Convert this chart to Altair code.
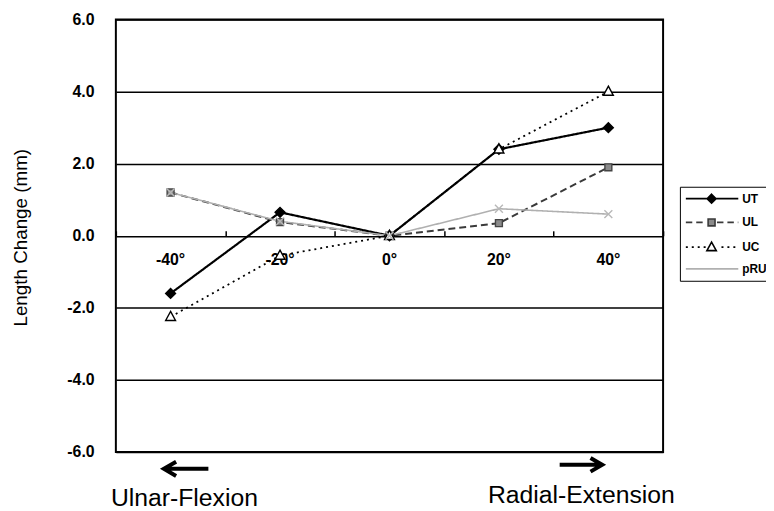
import altair as alt
import pandas as pd

# ---------------- data ----------------
angles = ["-40°", "-20°", "0°", "20°", "40°"]
series_names = ["UT", "UL", "UC", "pRU"]
ut = [-1.6, 0.65, 0.0, 2.4, 3.0]
ul = [1.2, 0.38, 0.0, 0.35, 1.9]
uc = [-2.25, -0.55, 0.0, 2.4, 4.0]
pru = [1.2, 0.4, 0.0, 0.75, 0.6]
y_ticks = [-6, -4, -2, 0, 2, 4, 6]

rows = []
for name, vals in zip(series_names, [ut, ul, uc, pru]):
    for a, v in zip(angles, vals):
        rows.append({"series": name, "angle": a, "value": v})
df = pd.DataFrame(rows)

# ---------------- styles ----------------
W, H = 553, 437
FONT = "Liberation Sans"

line_colors = ["#000000", "#3a3a3a", "#000000", "#b0b0b0"]
line_dashes = [[1, 0], [7, 4], [2, 4], [1, 0]]
line_widths = [2.2, 1.6, 2.2, 1.3]

marker_paths = [
    "M0,-1L1,0L0,1L-1,0Z",
    "M-0.7,-0.7H0.7V0.7H-0.7Z",
    "M0,-1.1L1,0.75H-1Z",
    "M-0.8,-0.8L0.8,0.8M-0.8,0.8L0.8,-0.8",
]
marker_fills = ["#000000", "#8a8a8a", "#ffffff", "transparent"]
marker_strokes = ["#000000", "#444444", "#000000", "#b8b8b8"]


def dashed(x0, x1, on, off, skip=None):
    parts = []
    x = x0
    while x < x1:
        e = min(x + on, x1)
        if skip is None or e <= skip[0] or x >= skip[1]:
            parts.append(f"M{x:.2f},0H{e:.2f}")
        x = e + off
    return "".join(parts)


# legend symbol paths (units of 5 px, relative to the symbol centre)
LX0, LX1, MC = -1.2, 9.4, 4.0
legend_paths = [
    f"M{LX0},0H{LX1}" + f"M{MC},-0.9L{MC+0.9},0L{MC},0.9L{MC-0.9},0Z",
    dashed(LX0, LX1, 1.3, 0.8, (MC - 0.9, MC + 0.9))
    + f"M{MC-0.7},-0.7H{MC+0.7}V0.7H{MC-0.7}Z",
    dashed(LX0, LX1, 0.4, 0.8, (MC - 1.1, MC + 1.1))
    + f"M{MC},-1L{MC+0.95},0.7H{MC-0.95}Z",
    f"M{LX0},0H{LX1}",
]

sdom = series_names
band = alt.Scale(type="band", paddingInner=0, paddingOuter=0)

x_main = alt.X(
    "angle:N", sort=angles, scale=band, bandPosition=0.5,
    axis=alt.Axis(orient="bottom", offset=-H / 2, domain=False, ticks=False,
                  tickSize=0, grid=False, labelAngle=0, labelFont=FONT,
                  labelFontSize=16, labelFontWeight="bold", labelColor="black",
                  labelPadding=16, labelBaseline="top", title=None),
)
x_ticks = alt.X(
    "angle:N", sort=angles, scale=band, bandPosition=0.5,
    axis=alt.Axis(orient="top", offset=-H / 2, domain=False, labels=False,
                  ticks=True, tickSize=5, tickWidth=1.5, tickColor="black",
                  tickBand="extent", grid=False, title=None),
)
x_none = alt.X("angle:N", sort=angles, scale=band, bandPosition=0.5, axis=None)

y_enc = alt.Y(
    "value:Q",
    scale=alt.Scale(domain=[-6, 6], nice=False, zero=False),
    axis=alt.Axis(values=y_ticks,
                  labelExpr="replace(format(datum.value, '.1f'), '\u2212', '-')",
                  grid=True, gridColor="black", gridWidth=1.6, domain=False,
                  ticks=False, labelPadding=22, labelFont=FONT, labelFontSize=16,
                  labelFontWeight="bold", labelColor="black",
                  title="Length Change (mm)", titleFont=FONT, titleFontSize=19,
                  titleFontWeight="normal", titleColor="black", titleAngle=270,
                  titleX=-90, titleY=220, titleAlign="center",
                  titleBaseline="alphabetic"),
)

lines = alt.Chart(df).mark_line().encode(
    x=x_main, y=y_enc,
    stroke=alt.Stroke("series:N", scale=alt.Scale(domain=sdom, range=line_colors), legend=None),
    strokeDash=alt.StrokeDash("series:N", scale=alt.Scale(domain=sdom, range=line_dashes), legend=None),
    strokeWidth=alt.StrokeWidth("series:N", scale=alt.Scale(domain=sdom, range=line_widths), legend=None),
)

points = alt.Chart(df).mark_point(filled=True, size=100, strokeWidth=1.4, opacity=1).encode(
    x=x_ticks, y=y_enc,
    shape=alt.Shape("series:N", scale=alt.Scale(domain=sdom, range=marker_paths), legend=None),
    fill=alt.Fill("series:N", scale=alt.Scale(domain=sdom, range=marker_fills), legend=None),
    stroke=alt.Stroke("series:N", scale=alt.Scale(domain=sdom, range=marker_strokes), legend=None),
)

leg = alt.Legend(orient="none", legendX=570, legendY=169, title=None, padding=6,
                 rowPadding=9, labelOffset=45, symbolSize=100,
                 strokeColor="black", fillColor="white", labelFont=FONT,
                 labelFontSize=12, labelFontWeight="bold", labelColor="black",
                 symbolStrokeWidth=1.6, symbolOpacity=1)

legend_layer = alt.Chart(df).mark_point(filled=True, size=100, opacity=0).encode(
    x=x_none, y=y_enc,
    shape=alt.Shape("series:N", scale=alt.Scale(domain=sdom, range=legend_paths), legend=leg),
    fill=alt.Fill("series:N", scale=alt.Scale(domain=sdom, range=marker_fills), legend=leg),
    stroke=alt.Stroke("series:N", scale=alt.Scale(domain=sdom, range=line_colors), legend=leg),
)

one = alt.InlineData(values=[{"k": 1}])
arrow_left = alt.Chart(one).mark_point(
    shape="M-1,0H1M-0.45,-0.32L-1,0L-0.45,0.32", size=2025, filled=False,
    stroke="black", strokeWidth=4, opacity=1,
).encode(x=alt.value(71), y=alt.value(454))
arrow_right = alt.Chart(one).mark_point(
    shape="M-1,0H1M0.45,-0.32L1,0L0.45,0.32", size=1850, filled=False,
    stroke="black", strokeWidth=4, opacity=1,
).encode(x=alt.value(470), y=alt.value(450))

txt_left = alt.Chart(one).mark_text(
    align="left", baseline="alphabetic", font=FONT, fontSize=25, color="black"
).encode(x=alt.value(-5), y=alt.value(492), text=alt.value("Ulnar-Flexion"))
txt_right = alt.Chart(one).mark_text(
    align="left", baseline="alphabetic", font=FONT, fontSize=25, color="black"
).encode(x=alt.value(376), y=alt.value(489), text=alt.value("Radial-Extension"))

chart = alt.layer(
    lines, points, legend_layer, arrow_left, arrow_right, txt_left, txt_right
).resolve_scale(
    x="independent", shape="independent", fill="independent", stroke="independent"
).resolve_axis(
    x="independent"
).properties(
    width=W, height=H,
    padding={"left": 109, "top": 9, "right": 104, "bottom": 57},
    autosize=alt.AutoSizeParams(type="none"),
    background="white",
).configure_view(stroke="black", strokeWidth=2)

chart.save("out.html", embed_options={"renderer": "svg", "actions": False})
